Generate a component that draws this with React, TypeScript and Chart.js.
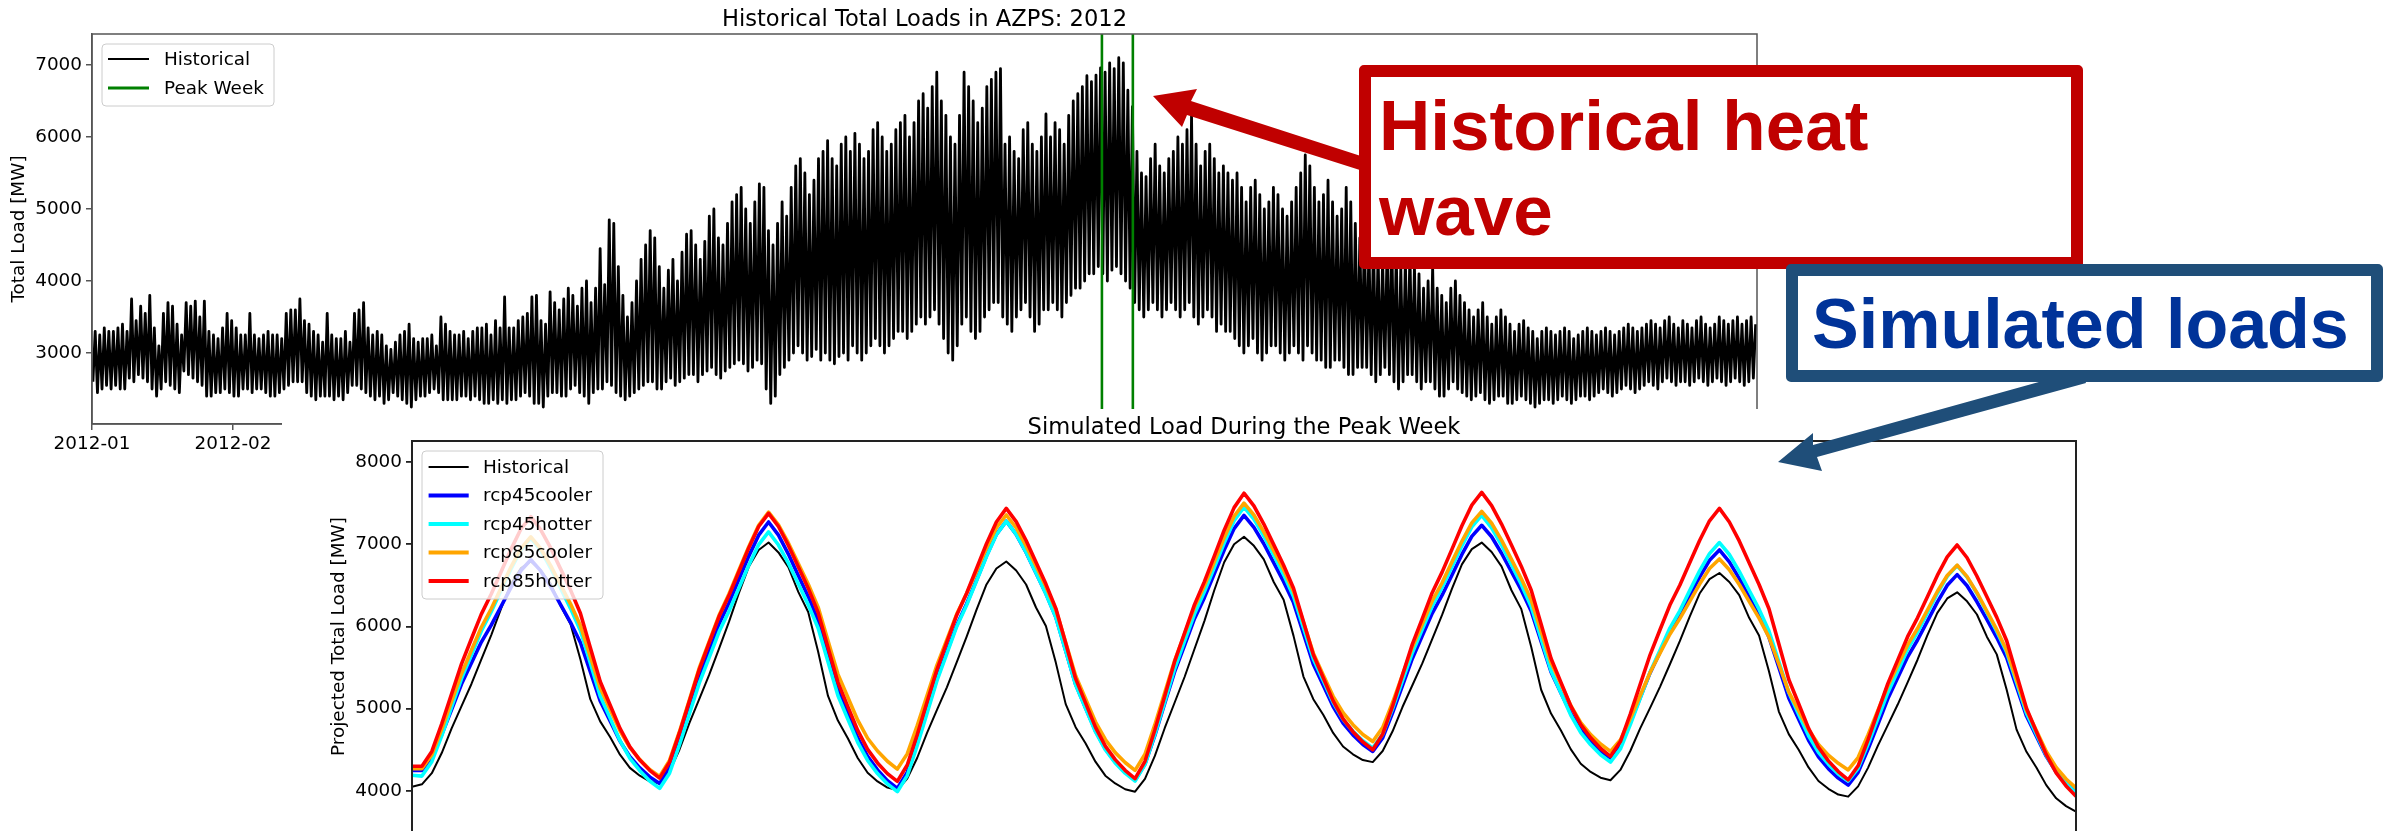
import React, { useEffect, useRef } from "react";
import { Chart, registerables } from "chart.js";
Chart.register(...registerables);

const FAMILY = "'DejaVu Sans', 'Liberation Sans', sans-serif";
const SMALL = 18.4;
const TITLE = 22.6;

// ---------------- Top chart data ----------------
const topTitle = "Historical Total Loads in AZPS: 2012";
const topYLabel = "Total Load [MW]";
const monthStarts = [0, 31, 60, 91, 121, 152, 182, 213, 244, 274, 305, 335];
const monthLabels = ["2012-01", "2012-02", "2012-03", "2012-04", "2012-05", "2012-06", "2012-07", "2012-08", "2012-09", "2012-10", "2012-11", "2012-12"];
const topYTicks = [3000, 4000, 5000, 6000, 7000];
const peakWeek = [222.0, 228.8];
const lowTimeOfDay = 0.2;
const highTimeOfDay = 0.7;

const dailyHigh = [
  3300, 3250, 3350, 3300, 3300, 3350, 3400, 3300, 3750, 3450,
  3650, 3550, 3800, 3350, 3100, 3550, 3700, 3650, 3400, 3250,
  3700, 3650, 3720, 3500, 3720, 3300, 3250, 3200, 3350, 3550,
  3450, 3350, 3250, 3250, 3550, 3250, 3200, 3250, 3300, 3250,
  3250, 3200, 3550, 3600, 3600, 3750, 3450, 3400, 3300, 3250,
  3150, 3550, 3250, 3200, 3200, 3300, 3150, 3550, 3600, 3700,
  3350, 3250, 3300, 3250, 3100, 3050, 3150, 3250, 3300, 3400,
  3200, 3150, 3200, 3200, 3250, 3100, 3500, 3400, 3300, 3250,
  3250, 3300, 3200, 3300, 3350, 3350, 3400, 3250, 3450, 3350,
  3780, 3350, 3350, 3450, 3500, 3550, 3780, 3800, 3450, 3400,
  3850, 3700, 3600, 3750, 3900, 3800, 3650, 3900, 4000, 3700,
  3900, 4450, 3950, 4850, 4800, 4200, 3800, 3500, 3700, 4000,
  4300, 4500, 4700, 4600, 4200, 3900, 4150, 4300, 4000, 4400,
  4650, 4700, 4500, 4300, 4550, 4900, 5000, 4600, 4500, 4800,
  5100, 5200, 5300, 5000, 4800, 5100, 5350, 5300, 4700, 4500,
  4800, 5100, 4900, 5300, 5600, 5700, 5500, 5200, 5400, 5700,
  5800, 5950, 5700, 5600, 5900, 6000, 5800, 6050, 5900, 5700,
  5800, 6100, 6200, 6000, 5800, 5900, 6100, 6200, 6300, 6000,
  6200, 6500, 6600, 6400, 6700, 6900, 6500, 6300, 6000, 5900,
  6300, 6900, 6700, 6500, 6200, 6400, 6700, 6800, 6900, 6950,
  5900, 6000, 5800, 5700, 6100, 6200, 5900, 5800, 6000, 6320,
  6000, 6200, 6100, 5900, 6300, 6500, 6600, 6700, 6850, 6770,
  6860, 6960, 6900, 7030, 6950, 7100, 7030, 6650, 6420, 5800,
  5500, 5450, 5700, 5900, 5600, 5500, 5700, 5800, 6000, 5900,
  6100, 6300, 5900, 5600, 5800, 5900, 5700, 5500, 5600, 5500,
  5400, 5500, 5300, 5100, 5300, 5400, 5200, 5000, 5100, 5300,
  5200, 5000, 4900, 5100, 5300, 5500, 5750, 5600, 5300, 5100,
  5200, 5400, 5100, 4900, 5000, 5300, 5100, 4800, 4600, 4700,
  4500, 4600, 4400, 4300, 4500, 4700, 4400, 4200, 4300, 4400,
  4200, 4100, 3900, 4000, 4200, 3900, 3800, 3700, 3900, 4000,
  3800, 3700, 3600, 3500, 3600, 3700, 3500, 3400, 3500, 3600,
  3500, 3400, 3300, 3400, 3450, 3350, 3300, 3200, 3300, 3350,
  3300, 3250, 3300, 3350, 3300, 3200, 3250, 3300, 3350, 3300,
  3250, 3300, 3350, 3300, 3250, 3300, 3350, 3400, 3350, 3300,
  3350, 3400, 3450, 3400, 3350, 3450, 3500, 3400, 3350, 3450,
  3400, 3350, 3450, 3500, 3400, 3350, 3400, 3500, 3450, 3400,
  3450, 3500, 3400, 3450, 3500, 3400,
];

const dailyLow = [
  2600, 2450, 2500, 2550, 2500, 2550, 2500, 2500, 2650, 2600,
  2700, 2650, 2600, 2500, 2400, 2500, 2600, 2550, 2500, 2450,
  2750, 2700, 2650, 2600, 2550, 2400, 2400, 2450, 2450, 2500,
  2450, 2400, 2400, 2500, 2500, 2450, 2500, 2500, 2450, 2400,
  2400, 2450, 2500, 2550, 2600, 2600, 2600, 2450, 2400, 2350,
  2400, 2400, 2400, 2350, 2400, 2350, 2450, 2550, 2550, 2500,
  2450, 2400, 2350, 2400, 2300, 2350, 2450, 2400, 2350, 2300,
  2250, 2350, 2400, 2400, 2450, 2500, 2450, 2350, 2350, 2350,
  2350, 2400, 2400, 2350, 2400, 2350, 2300, 2300, 2350, 2300,
  2350, 2300, 2350, 2350, 2400, 2450, 2400, 2300, 2300, 2250,
  2400, 2450, 2450, 2400, 2400, 2500, 2550, 2450, 2400, 2300,
  2450, 2500, 2500, 2600, 2550, 2450, 2400, 2350, 2400, 2450,
  2500, 2550, 2600, 2600, 2500, 2500, 2600, 2650, 2550, 2600,
  2650, 2700, 2700, 2600, 2700, 2750, 2800, 2700, 2650, 2750,
  2800, 2850, 2900, 2850, 2750, 2800, 2900, 2850, 2500, 2300,
  2400, 2700, 2800, 2900, 3000, 3100, 3000, 2900, 2950, 3050,
  2900, 3000, 2900, 2850, 2950, 3000, 2900, 3100, 3000, 2900,
  3000, 3100, 3200, 3100, 3000, 3100, 3200, 3300, 3300, 3200,
  3300, 3400, 3500, 3400, 3500, 3600, 3400, 3200, 3000, 2900,
  3100, 3400, 3500, 3300, 3200, 3300, 3500, 3600, 3700, 3700,
  3500, 3400, 3300, 3500, 3600, 3700, 3500, 3300, 3400, 3600,
  3600, 3700, 3600, 3500, 3700, 3800, 3900, 3900, 4000, 4100,
  4100, 4200, 4100, 4000, 4150, 4200, 4100, 4000, 3900, 3700,
  3600, 3500, 3600, 3700, 3600, 3500, 3600, 3700, 3600, 3500,
  3600, 3700, 3500, 3400, 3500, 3600, 3500, 3300, 3400, 3300,
  3300, 3200, 3100, 3000, 3100, 3200, 3000, 2900, 3000, 3100,
  3100, 3000, 2900, 3000, 3100, 3000, 2900, 3100, 3000, 2900,
  2900, 2800, 2800, 2900, 2900, 2800, 2700, 2700, 2800, 2800,
  2800, 2700, 2600, 2700, 2800, 2700, 2600, 2500, 2600, 2700,
  2700, 2600, 2500, 2600, 2600, 2500, 2400, 2400, 2500, 2600,
  2500, 2450, 2400, 2350, 2400, 2450, 2350, 2300, 2350, 2400,
  2400, 2300, 2300, 2350, 2400, 2350, 2300, 2250, 2300, 2350,
  2350, 2300, 2350, 2400, 2350, 2300, 2350, 2400, 2400, 2350,
  2400, 2450, 2500, 2450, 2400, 2450, 2500, 2550, 2500, 2450,
  2500, 2550, 2600, 2550, 2500, 2600, 2650, 2600, 2550, 2600,
  2600, 2550, 2600, 2650, 2600, 2550, 2600, 2650, 2600, 2550,
  2600, 2650, 2600, 2550, 2600, 2650,
];

// ---------------- Bottom chart data ----------------
const botTitle = "Simulated Load During the Peak Week";
const botYLabel = "Projected Total Load [MW]";
const botYTicks = [4000, 5000, 6000, 7000, 8000];
const seriesNames = ["Historical", "rcp45cooler", "rcp45hotter", "rcp85cooler", "rcp85hotter"];
const seriesColors = ["#000000", "#0000ff", "#00ffff", "#ffa500", "#ff0000"];

const histLoad = [
  4050, 4080, 4215, 4460, 4760, 5030, 5300, 5600, 5895, 6220, 6520, 6710, 6790,
  6680, 6520, 6250, 6030, 5600, 5115, 4845, 4655, 4440, 4280, 4185, 4115, 4090,
  4235, 4500, 4825, 5115, 5410, 5730, 6055, 6405, 6725, 6930, 7020,
  6900, 6720, 6420, 6175, 5695, 5155, 4855, 4640, 4400, 4220, 4115, 4040, 4010,
  4150, 4400, 4705, 4985, 5260, 5565, 5875, 6205, 6510, 6705, 6790,
  6680, 6510, 6230, 6005, 5560, 5055, 4775, 4580, 4355, 4185, 4090, 4020, 3990,
  4145, 4425, 4765, 5075, 5385, 5725, 6065, 6440, 6780, 7000, 7090,
  6980, 6815, 6540, 6325, 5885, 5390, 5115, 4925, 4705, 4540, 4445, 4375, 4350,
  4485, 4725, 5020, 5285, 5550, 5845, 6140, 6460, 6755, 6940, 7020,
  6905, 6730, 6440, 6210, 5750, 5230, 4940, 4735, 4505, 4330, 4230, 4160, 4130,
  4255, 4485, 4760, 5010, 5265, 5540, 5820, 6120, 6400, 6575, 6650,
  6540, 6380, 6105, 5890, 5455, 4965, 4690, 4500, 4285, 4120, 4025, 3955, 3930,
  4055, 4280, 4550, 4800, 5050, 5320, 5595, 5895, 6165, 6340, 6415,
  6305, 6145, 5875, 5660, 5230, 4745, 4475, 4285, 4070, 3910, 3815, 3748,
];

const rcp45cooler = [
  4250, 4250, 4405, 4685, 4990, 5300, 5555, 5810, 6015, 6245, 6475, 6680, 6810,
  6675, 6485, 6265, 6050, 5805, 5450, 5095, 4850, 4605, 4415, 4280, 4170, 4090,
  4280, 4630, 5010, 5395, 5710, 6030, 6285, 6570, 6855, 7110, 7270,
  7110, 6880, 6620, 6365, 6070, 5650, 5230, 4935, 4645, 4420, 4255, 4125, 4030,
  4225, 4585, 4975, 5365, 5690, 6015, 6275, 6565, 6860, 7120, 7280,
  7120, 6900, 6650, 6400, 6115, 5705, 5295, 5010, 4730, 4510, 4350, 4225, 4130,
  4325, 4675, 5065, 5450, 5770, 6095, 6350, 6640, 6930, 7190, 7350,
  7205, 7005, 6775, 6545, 6290, 5915, 5540, 5285, 5025, 4825, 4680, 4565, 4480,
  4645, 4950, 5280, 5610, 5885, 6160, 6380, 6625, 6875, 7095, 7230,
  7090, 6890, 6665, 6440, 6185, 5815, 5445, 5190, 4940, 4740, 4600, 4485, 4400,
  4550, 4830, 5135, 5435, 5690, 5945, 6145, 6375, 6600, 6805, 6930,
  6785, 6585, 6360, 6130, 5870, 5500, 5130, 4870, 4615, 4415, 4270, 4155, 4070,
  4225, 4505, 4810, 5120, 5375, 5630, 5835, 6065, 6295, 6500, 6630,
  6495, 6300, 6085, 5865, 5620, 5265, 4910, 4665, 4420, 4230, 4090, 3980,
];

const rcp45hotter = [
  4190, 4180, 4355, 4670, 5020, 5365, 5655, 5945, 6180, 6440, 6700, 6930, 7075,
  6925, 6710, 6465, 6220, 5950, 5555, 5155, 4885, 4610, 4395, 4245, 4120, 4030,
  4215, 4560, 4935, 5310, 5620, 5935, 6185, 6465, 6745, 6995, 7150,
  6990, 6770, 6520, 6265, 5980, 5570, 5160, 4875, 4590, 4370, 4210, 4085, 3990,
  4185, 4550, 4945, 5340, 5670, 6000, 6260, 6555, 6850, 7115, 7280,
  7120, 6900, 6650, 6395, 6110, 5700, 5290, 5005, 4720, 4500, 4340, 4215, 4120,
  4320, 4685, 5085, 5485, 5820, 6150, 6420, 6715, 7015, 7285, 7450,
  7305, 7100, 6865, 6630, 6365, 5985, 5605, 5340, 5075, 4870, 4725, 4610, 4520,
  4690, 5000, 5340, 5680, 5965, 6245, 6475, 6725, 6980, 7210, 7350,
  7200, 6990, 6750, 6510, 6240, 5850, 5460, 5190, 4920, 4710, 4560, 4440, 4350,
  4510, 4805, 5125, 5445, 5710, 5980, 6190, 6435, 6675, 6885, 7020,
  6875, 6670, 6440, 6210, 5945, 5570, 5195, 4930, 4670, 4470, 4325, 4205, 4120,
  4275, 4565, 4880, 5195, 5455, 5720, 5930, 6165, 6400, 6610, 6740,
  6600, 6400, 6170, 5940, 5685, 5315, 4945, 4690, 4430, 4230, 4090, 3975,
];

const rcp85cooler = [
  4270, 4270, 4440, 4750, 5090, 5425, 5710, 5990, 6215, 6470, 6725, 6950, 7090,
  6945, 6740, 6505, 6275, 6010, 5635, 5255, 4990, 4730, 4525, 4380, 4260, 4175,
  4370, 4720, 5105, 5495, 5815, 6135, 6395, 6685, 6970, 7230, 7390,
  7235, 7015, 6765, 6515, 6235, 5825, 5420, 5140, 4860, 4640, 4485, 4360, 4265,
  4450, 4790, 5160, 5530, 5840, 6150, 6400, 6675, 6955, 7200, 7355,
  7200, 6980, 6735, 6485, 6205, 5805, 5400, 5120, 4840, 4625, 4465, 4345, 4250,
  4445, 4805, 5195, 5585, 5910, 6235, 6495, 6785, 7080, 7340, 7500,
  7355, 7150, 6920, 6690, 6425, 6050, 5675, 5410, 5150, 4950, 4805, 4685, 4600,
  4770, 5075, 5410, 5750, 6030, 6310, 6530, 6785, 7035, 7260, 7400,
  7255, 7050, 6815, 6580, 6320, 5940, 5560, 5300, 5035, 4830, 4685, 4570, 4480,
  4620, 4880, 5160, 5440, 5675, 5905, 6095, 6305, 6515, 6705, 6820,
  6690, 6510, 6305, 6100, 5870, 5540, 5205, 4975, 4745, 4565, 4435, 4335, 4255,
  4405, 4680, 4980, 5275, 5525, 5775, 5975, 6200, 6425, 6620, 6745,
  6605, 6410, 6185, 5960, 5710, 5350, 4985, 4735, 4480, 4285, 4145, 4035,
];

const rcp85hotter = [
  4300, 4300, 4480, 4815, 5180, 5545, 5850, 6150, 6395, 6665, 6940, 7185, 7335,
  7175, 6955, 6700, 6445, 6160, 5745, 5330, 5045, 4760, 4535, 4375, 4250, 4155,
  4350, 4705, 5090, 5475, 5800, 6120, 6375, 6665, 6955, 7215, 7375,
  7215, 6985, 6725, 6465, 6170, 5745, 5320, 5025, 4735, 4505, 4340, 4210, 4115,
  4315, 4680, 5080, 5475, 5810, 6140, 6405, 6705, 7005, 7270, 7435,
  7275, 7045, 6780, 6515, 6220, 5795, 5365, 5070, 4775, 4545, 4380, 4250, 4150,
  4360, 4740, 5155, 5575, 5920, 6265, 6545, 6855, 7170, 7445, 7620,
  7465, 7245, 6995, 6745, 6465, 6060, 5655, 5375, 5095, 4875, 4720, 4595, 4500,
  4690, 5030, 5410, 5785, 6095, 6410, 6660, 6940, 7225, 7475, 7630,
  7470, 7245, 6990, 6730, 6440, 6025, 5610, 5320, 5030, 4805, 4645, 4515, 4420,
  4600, 4935, 5295, 5655, 5960, 6260, 6500, 6775, 7045, 7285, 7435,
  7270, 7040, 6775, 6510, 6215, 5785, 5355, 5060, 4760, 4530, 4365, 4235, 4135,
  4305, 4620, 4965, 5305, 5590, 5875, 6105, 6360, 6620, 6845, 6990,
  6835, 6610, 6360, 6110, 5825, 5415, 5005, 4720, 4440, 4220, 4060, 3935,
];

const allSeries = [histLoad, rcp45cooler, rcp45hotter, rcp85cooler, rcp85hotter];
const seriesWidths = [2, 3.6, 3.6, 3.6, 3.6];

// ---------------- helpers ----------------
function roundRect(ctx, x, y, w, h, r) {
  ctx.beginPath();
  ctx.moveTo(x + r, y);
  ctx.arcTo(x + w, y, x + w, y + h, r);
  ctx.arcTo(x + w, y + h, x, y + h, r);
  ctx.arcTo(x, y + h, x, y, r);
  ctx.arcTo(x, y, x + w, y, r);
  ctx.closePath();
}

function decorPlugin(cfg) {
  return {
    id: "decor_" + cfg.key,
    afterDraw(chart) {
      const { ctx, chartArea: a } = chart;
      ctx.save();
      ctx.strokeStyle = cfg.spineColor;
      ctx.lineWidth = cfg.spineWidth;
      ctx.strokeRect(a.left, a.top, a.right - a.left, a.bottom - a.top);
      ctx.fillStyle = "#000";
      ctx.font = `${TITLE}px ${FAMILY}`;
      ctx.textAlign = "center";
      ctx.textBaseline = "alphabetic";
      ctx.fillText(cfg.title, (a.left + a.right) / 2, cfg.titleY);
      ctx.save();
      ctx.translate(cfg.yLabelX, (a.top + a.bottom) / 2);
      ctx.rotate(-Math.PI / 2);
      ctx.font = `${SMALL}px ${FAMILY}`;
      ctx.textBaseline = "middle";
      ctx.textAlign = "center";
      ctx.fillText(cfg.yLabel, 0, 0);
      ctx.restore();
      const L = cfg.legend;
      roundRect(ctx, L.x, L.y, L.w, L.h, 4);
      ctx.fillStyle = "rgba(255,255,255,0.8)";
      ctx.fill();
      ctx.strokeStyle = "#cccccc";
      ctx.lineWidth = 1;
      ctx.stroke();
      ctx.font = `${SMALL}px ${FAMILY}`;
      ctx.textAlign = "left";
      ctx.textBaseline = "middle";
      L.items.forEach((it, i) => {
        const y = L.y + L.first + i * L.step;
        ctx.beginPath();
        ctx.strokeStyle = it.color;
        ctx.lineWidth = it.width;
        ctx.moveTo(L.x0, y);
        ctx.lineTo(L.x1, y);
        ctx.stroke();
        ctx.fillStyle = "#000";
        ctx.fillText(it.label, L.tx, y + 1);
      });
      ctx.restore();
    },
  };
}

const TOP_W = 2384, TOP_H = 500;
const BOT_W = 2102, BOT_H = 500;
const TOP_MIN = 2014, TOP_MAX = 7430;
const BOT_MIN = 3500, BOT_MAX = 8255;

function axisStyle(color, width) {
  return {
    grid: { display: true, drawOnChartArea: false, drawTicks: true, tickLength: 6, color, lineWidth: width },
    border: { display: true, color, width },
  };
}

export default function App() {
  const topRef = useRef(null);
  const botRef = useRef(null);

  useEffect(() => {
    const histPoints = [];
    dailyLow.forEach((v, d) => {
      histPoints.push({ x: d + lowTimeOfDay, y: v });
      histPoints.push({ x: d + highTimeOfDay, y: dailyHigh[d] });
    });

    const topChart = new Chart(topRef.current, {
      type: "line",
      data: {
        datasets: [
          { label: "Peak Week", data: [{ x: peakWeek[0], y: TOP_MIN }, { x: peakWeek[0], y: TOP_MAX }], borderColor: "#008000", borderWidth: 2.6, pointRadius: 0, order: 0 },
          { label: "Peak Week", data: [{ x: peakWeek[1], y: TOP_MIN }, { x: peakWeek[1], y: TOP_MAX }], borderColor: "#008000", borderWidth: 2.6, pointRadius: 0, order: 0 },
          { label: "Historical", data: histPoints, borderColor: "#000000", borderWidth: 2.8, pointRadius: 0, order: 1, borderJoinStyle: "round", tension: 0 },
        ],
      },
      options: {
        animation: false,
        responsive: false,
        devicePixelRatio: 1,
        layout: { padding: { left: 0, top: 34, right: TOP_W - 1757, bottom: 0 } },
        plugins: { legend: { display: false }, tooltip: { enabled: false } },
        scales: {
          x: {
            type: "linear", min: 0, max: 366,
            afterBuildTicks: (s) => { s.ticks = monthStarts.map((v) => ({ value: v })); },
            afterFit: (s) => { s.height = TOP_H - 424; },
            ticks: { callback: (v, i) => monthLabels[i], autoSkip: false, maxRotation: 0, color: "#000", padding: 3, font: { family: FAMILY, size: SMALL } },
            ...axisStyle("#555", 1.5),
          },
          y: {
            type: "linear", min: TOP_MIN, max: TOP_MAX,
            afterBuildTicks: (s) => { s.ticks = topYTicks.map((v) => ({ value: v })); },
            afterFit: (s) => { s.width = 92; },
            ticks: { callback: (v) => String(v), color: "#000", padding: 4, font: { family: FAMILY, size: SMALL } },
            ...axisStyle("#555", 1.5),
          },
        },
      },
      plugins: [decorPlugin({
        key: "top", spineColor: "#555", spineWidth: 1.5, title: topTitle, titleY: 26, yLabel: topYLabel, yLabelX: 19,
        legend: { x: 102, y: 44, w: 172, h: 62, first: 15, step: 29, x0: 108, x1: 149, tx: 164,
          items: [{ label: "Historical", color: "#000", width: 2 }, { label: "Peak Week", color: "#008000", width: 3 }] },
      })],
    });

    const botChart = new Chart(botRef.current, {
      type: "line",
      data: {
        datasets: allSeries.map((arr, si) => ({
          label: seriesNames[si],
          data: arr.map((v, i) => ({ x: i, y: v })),
          borderColor: seriesColors[si],
          borderWidth: seriesWidths[si],
          pointRadius: 0,
          borderJoinStyle: "round",
          order: allSeries.length - si,
        })),
      },
      options: {
        animation: false,
        responsive: false,
        devicePixelRatio: 1,
        layout: { padding: { left: 0, top: 32, right: BOT_W - 1794, bottom: 0 } },
        plugins: { legend: { display: false }, tooltip: { enabled: false } },
        scales: {
          x: {
            type: "linear", min: 0, max: 168,
            afterFit: (s) => { s.height = BOT_H - 423; },
            ticks: { display: false },
            grid: { display: false },
            border: { display: true, color: "#222", width: 2 },
          },
          y: {
            type: "linear", min: BOT_MIN, max: BOT_MAX,
            afterBuildTicks: (s) => { s.ticks = botYTicks.map((v) => ({ value: v })); },
            afterFit: (s) => { s.width = 130; },
            ticks: { callback: (v) => String(v), color: "#000", padding: 4, font: { family: FAMILY, size: SMALL } },
            ...axisStyle("#222", 1.8),
          },
        },
      },
      plugins: [decorPlugin({
        key: "bot", spineColor: "#222", spineWidth: 2, title: botTitle, titleY: 25, yLabel: botYLabel, yLabelX: 57,
        legend: { x: 140, y: 42, w: 181, h: 148, first: 16, step: 28.5, x0: 146.6, x1: 186.7, tx: 201,
          items: seriesNames.map((n, i) => ({ label: n, color: seriesColors[i], width: i === 0 ? 2 : 4 })) },
      })],
    });

    return () => { topChart.destroy(); botChart.destroy(); };
  }, []);

  const boxText = { fontFamily: "'Liberation Sans', Arial, sans-serif", fontWeight: 700, whiteSpace: "nowrap" as const };

  return (
    <div style={{ position: "fixed", left: 0, top: 0, width: 2384, height: 831, overflow: "hidden", background: "#fff" }}>
      <canvas ref={topRef} width={TOP_W} height={TOP_H} style={{ position: "absolute", left: 0, top: 0, width: TOP_W, height: TOP_H }} />
      <canvas ref={botRef} width={BOT_W} height={BOT_H} style={{ position: "absolute", left: 282, top: 409, width: BOT_W, height: BOT_H, background: "#fff" }} />
      <svg width={2384} height={831} style={{ position: "absolute", left: 0, top: 0 }}>
        <polygon fill="#C00000" points="1153,96 1197,89 1191,101 1367,158 1363,171 1187,115 1182,127" />
        <polygon fill="#1F4E79" points="1778,462 1813,433 1813,445 2082,370 2086,383 1817,457 1822,471" />
      </svg>
      <div style={{ position: "absolute", left: 1359, top: 65, width: 724, height: 204, boxSizing: "border-box", border: "12px solid #C00000", borderRadius: 5, background: "#fff" }}>
        <div style={{ ...boxText, color: "#C00000", fontSize: 71, lineHeight: "85px", paddingLeft: 8, paddingTop: 6 }}>
          Historical heat<br />wave
        </div>
      </div>
      <div style={{ position: "absolute", left: 1786, top: 264, width: 597, height: 118, boxSizing: "border-box", border: "12px solid #1F4E79", borderRadius: 5, background: "#fff" }}>
        <div style={{ ...boxText, color: "#003399", fontSize: 70, lineHeight: "80px", paddingLeft: 14, paddingTop: 8 }}>
          Simulated loads
        </div>
      </div>
    </div>
  );
}
